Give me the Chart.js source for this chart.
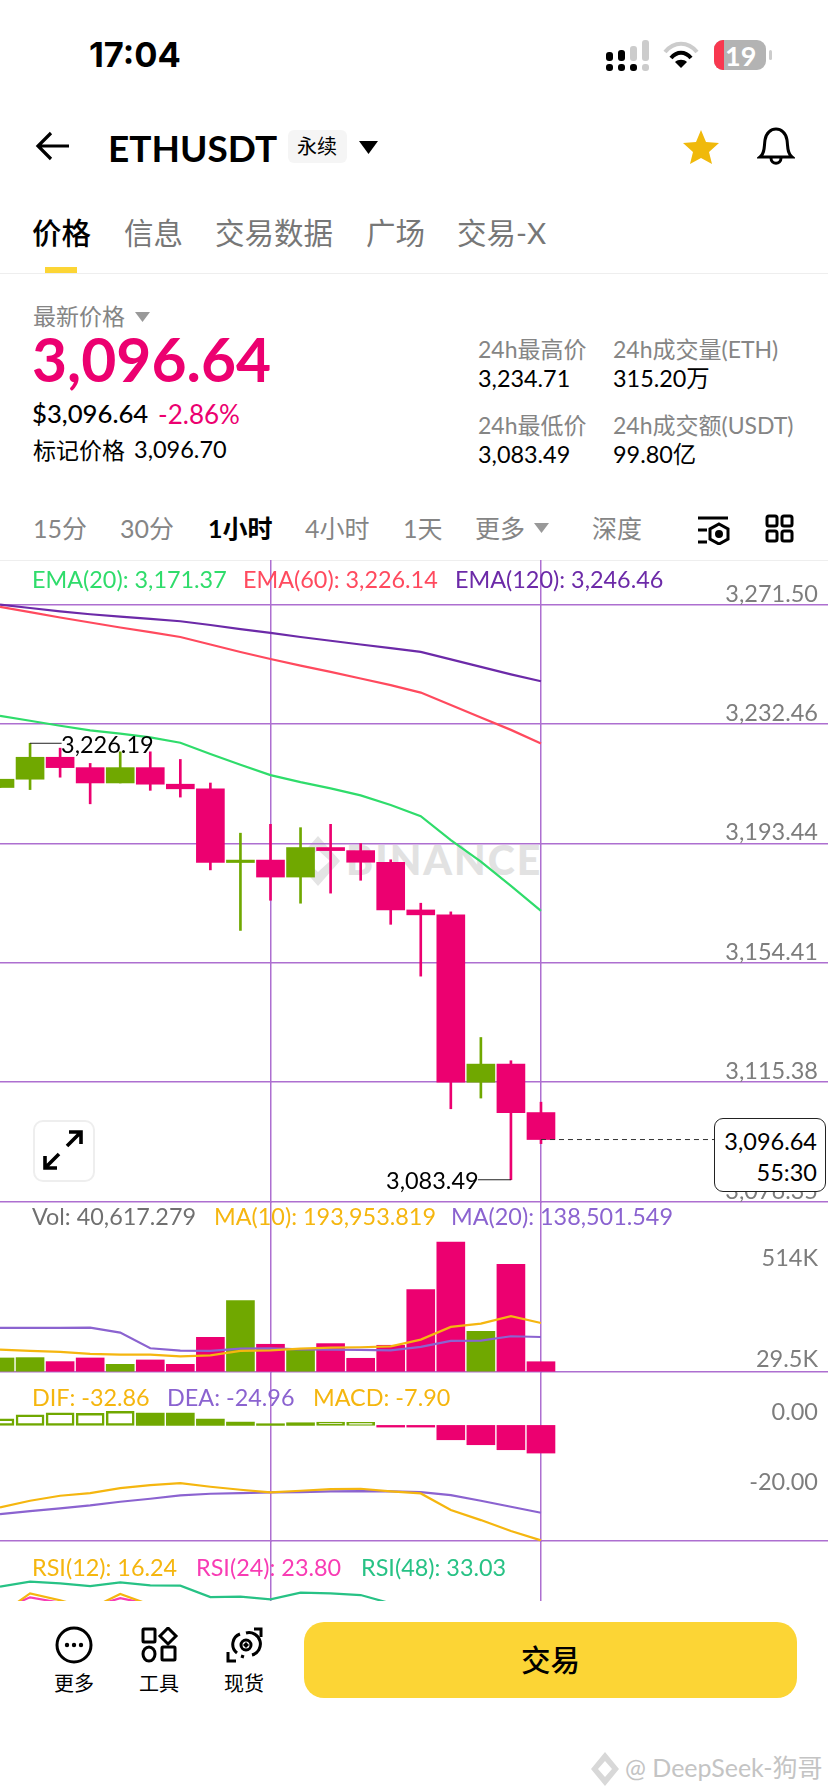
<!DOCTYPE html>
<html lang="zh">
<head>
<meta charset="utf-8">
<title>ETHUSDT</title>
<script src="https://cdn.jsdelivr.net/npm/chart.js@4"></script>
<style>
  html, body { margin: 0; padding: 0; background: #fff; }
  #app { position: relative; width: 828px; height: 1792px; overflow: hidden; background: #fff;
         font-family: Lato, "Noto Sans CJK SC", sans-serif; color: #000; }
  .t { position: absolute; white-space: nowrap; transform: translateY(-50%); line-height: 1; }
  .g { color: #858585; }
  .r { right: 10px; color: #7d7d7d; font-size: 23.5px; }
  canvas { position: absolute; left: 0; }
  svg { position: absolute; }
  #priceBox { position: absolute; left: 714px; top: 1118px; width: 110px; height: 72px; background: #fff;
              border: 1.5px solid #222; border-radius: 9px; z-index: 3; }
  #priceBox div { position: absolute; right: 8px; font-size: 23.5px; line-height: 1; }
</style>
</head>
<body>
<div id="app">
  <!-- status bar -->
  <div class="t" style="left:89px;top:55px;font-size:34.5px;font-weight:700;font-family:Inter">17:04</div>
  <svg style="left:604px;top:38px" width="70" height="34">
    <rect x="2" y="14" width="7" height="9" rx="3"/><rect x="14" y="12" width="7" height="11" rx="3"/>
    <rect x="2" y="26" width="7" height="7" rx="3"/><rect x="14" y="26" width="7" height="7" rx="3"/><rect x="26" y="26" width="7" height="7" rx="3"/>
    <rect x="26" y="8" width="7" height="15" rx="3" fill="#ccc"/><rect x="38" y="2" width="7" height="21" rx="3" fill="#ccc"/><rect x="38" y="26" width="7" height="7" rx="3" fill="#ccc"/>
  </svg>
  <svg style="left:662px;top:40px" width="38" height="30" fill="none" stroke-width="4">
    <path d="M3 12 C12 1 26 1 35 12" stroke="#ccc"/><path d="M9 18 C15 11 23 11 29 18" stroke="#000"/>
    <path d="M19 28 L13 22 C16 19 22 19 25 22 Z" fill="#000" stroke="none"/>
  </svg>
  <div style="position:absolute;left:714px;top:40px;width:52px;height:30px;border-radius:9px;background:#b3b3b3;overflow:hidden">
    <div style="position:absolute;left:0;top:0;width:10px;height:30px;background:#f8384f"></div>
    <div class="t" style="left:11px;top:15px;color:#fff;font-size:27px;font-weight:700">19</div>
  </div>
  <div style="position:absolute;left:769px;top:50px;width:3px;height:10px;background:#ccc;border-radius:2px"></div>

  <!-- title row -->
  <svg style="left:35px;top:130px" width="36" height="32" fill="none" stroke="#000" stroke-width="3.2">
    <path d="M2 16 H34 M16 3 L3 16 L16 29"/>
  </svg>
  <div class="t" style="left:108px;top:147px;font-size:37px;font-weight:700">ETHUSDT</div>
  <div style="position:absolute;left:288px;top:130px;width:59px;height:33px;background:#f5f5f5;border-radius:6px"></div>
  <div class="t" style="left:297px;top:146px;font-size:20px">永续</div>
  <svg style="left:359px;top:141px" width="20" height="13"><path d="M0 0 H19 L9.5 13 Z"/></svg>
  <svg style="left:682px;top:129px" width="38" height="36"><path d="M19 1 L24 13 L37 14 L27 23 L30 35 L19 29 L8 35 L11 23 L1 14 L14 13 Z" fill="#f0b90b"/></svg>
  <svg style="left:757px;top:127px" width="38" height="38" fill="none" stroke="#000" stroke-width="3">
    <path d="M3 30 C8 26 7 20 8 13 C9 6 14 2 19 2 C24 2 29 6 30 13 C31 20 30 26 35 30 Z"/><path d="M14 31 C14 38 24 38 24 31"/>
  </svg>

  <!-- tabs -->
  <div class="t" style="left:32px;top:233px;font-size:29.5px;font-weight:500">价格</div>
  <div class="t g" style="left:124px;top:233px;font-size:29.5px;color:#777">信息</div>
  <div class="t g" style="left:215px;top:233px;font-size:29.5px;color:#777">交易数据</div>
  <div class="t g" style="left:366px;top:233px;font-size:29.5px;color:#777">广场</div>
  <div class="t g" style="left:457px;top:233px;font-size:29.5px;color:#777">交易-X</div>
  <div style="position:absolute;left:45px;top:267px;width:32px;height:6px;background:#fcd535"></div>
  <div style="position:absolute;left:0;top:273px;width:828px;height:1px;background:#eee"></div>

  <!-- price block -->
  <div class="t g" style="left:33px;top:316px;font-size:23px">最新价格</div>
  <svg style="left:135px;top:312px" width="16" height="10"><path d="M0 0 H15 L7.5 10 Z" fill="#999"/></svg>
  <div class="t" style="left:32px;top:359px;font-size:60.5px;font-weight:700;color:#ec0070">3,096.64</div>
  <div class="t" style="left:32px;top:414px;font-size:25.7px;font-weight:500">$3,096.64</div>
  <div class="t" style="left:158px;top:414px;font-size:26px;color:#ec0070">-2.86%</div>
  <div class="t" style="left:33px;top:450px;font-size:23px">标记价格</div>
  <div class="t" style="left:134px;top:450px;font-size:23.5px">3,096.70</div>

  <div class="t g" style="left:478px;top:349px;font-size:23px">24h最高价</div>
  <div class="t" style="left:478px;top:379px;font-size:23.4px">3,234.71</div>
  <div class="t g" style="left:613px;top:349px;font-size:23px">24h成交量(ETH)</div>
  <div class="t" style="left:613px;top:379px;font-size:23.4px">315.20万</div>
  <div class="t g" style="left:478px;top:425px;font-size:23px">24h最低价</div>
  <div class="t" style="left:478px;top:455px;font-size:23.4px">3,083.49</div>
  <div class="t g" style="left:613px;top:425px;font-size:23px">24h成交额(USDT)</div>
  <div class="t" style="left:613px;top:455px;font-size:23.4px">99.80亿</div>

  <!-- interval row -->
  <div class="t g" style="left:33px;top:528px;font-size:25px">15分</div>
  <div class="t g" style="left:120px;top:528px;font-size:25px">30分</div>
  <div class="t" style="left:208px;top:528px;font-size:25px;font-weight:700">1小时</div>
  <div class="t g" style="left:305px;top:528px;font-size:25px">4小时</div>
  <div class="t g" style="left:403px;top:528px;font-size:25px">1天</div>
  <div class="t g" style="left:475px;top:528px;font-size:25px">更多</div>
  <svg style="left:534px;top:523px" width="16" height="10"><path d="M0 0 H15 L7.5 10 Z" fill="#999"/></svg>
  <div class="t g" style="left:592px;top:528px;font-size:25px">深度</div>
  <svg style="left:697px;top:515px" width="33" height="30" fill="none" stroke="#000" stroke-width="3">
    <path d="M1 3 H31 M1 15 H10 M1 27 H10"/><path d="M22 9 L31 14 V24 L22 29 L13 24 V14 Z"/><circle cx="22" cy="19" r="2.5" fill="#000"/>
  </svg>
  <svg style="left:765px;top:514px" width="29" height="29" fill="none" stroke="#000" stroke-width="3">
    <rect x="2" y="2" width="10" height="10" rx="2"/><rect x="17" y="2" width="10" height="10" rx="2"/>
    <rect x="2" y="17" width="10" height="10" rx="2"/><rect x="17" y="17" width="10" height="10" rx="2"/>
  </svg>
  <div style="position:absolute;left:0;top:560px;width:828px;height:1px;background:#eee"></div>

  <!-- watermark behind the candles -->
  <svg style="left:296px;top:836px" width="44" height="50"><path d="M22 0 L44 25 L22 50 L0 25 Z M22 14 L10 25 L22 36 L34 25 Z" fill="#e4e4e4" fill-rule="evenodd"/></svg>
  <div class="t" style="left:346px;top:859px;font-size:41px;font-weight:900;color:#e2e2e2;letter-spacing:2px">BINANCE</div>

  <canvas id="priceChart" width="828" height="643" style="top:560px"></canvas>
  <canvas id="volChart" width="828" height="171" style="top:1202px"></canvas>
  <canvas id="macdChart" width="828" height="170" style="top:1372px"></canvas>
  <canvas id="rsiChart" width="828" height="60" style="top:1541px"></canvas>

  <!-- pane legends -->
  <div class="t" style="left:32px;top:580px;font-size:23.4px;color:#2fdc6b">EMA(20): 3,171.37</div>
  <div class="t" style="left:243px;top:580px;font-size:23.4px;color:#ff4a5e">EMA(60): 3,226.14</div>
  <div class="t" style="left:455px;top:580px;font-size:23.4px;color:#6c2aa8">EMA(120): 3,246.46</div>
  <div class="t" style="left:32px;top:1217px;font-size:23.4px;color:#707070">Vol: 40,617.279</div>
  <div class="t" style="left:214px;top:1217px;font-size:23.4px;color:#f5b60f">MA(10): 193,953.819</div>
  <div class="t" style="left:451px;top:1217px;font-size:23.4px;color:#8b63d0">MA(20): 138,501.549</div>
  <div class="t" style="left:32px;top:1398px;font-size:23.4px;color:#f5b60f">DIF: -32.86</div>
  <div class="t" style="left:167px;top:1398px;font-size:23.4px;color:#8b63d0">DEA: -24.96</div>
  <div class="t" style="left:313px;top:1398px;font-size:23.4px;color:#f5b60f">MACD: -7.90</div>
  <div class="t" style="left:32px;top:1568px;font-size:23.4px;color:#f5b60f">RSI(12): 16.24</div>
  <div class="t" style="left:196px;top:1568px;font-size:23.4px;color:#f83cb4">RSI(24): 23.80</div>
  <div class="t" style="left:361px;top:1568px;font-size:23.4px;color:#27c285">RSI(48): 33.03</div>

  <!-- high / low markers -->
  <div class="t" style="left:61px;top:745px;font-size:23.5px">3,226.19</div>
  <div class="t" style="left:386px;top:1181px;font-size:23.5px">3,083.49</div>

  <!-- expand button -->
  <div style="position:absolute;left:33px;top:1120px;width:58px;height:58px;border:2px solid #eee;border-radius:10px;background:#fff"></div>
  <svg style="left:41px;top:1128px" width="44" height="44" fill="none" stroke="#000" stroke-width="3.6">
    <path d="M26 18 L39 5 M28 4 H40 V16 M18 26 L5 39 M4 28 V40 H16"/>
  </svg>

  <!-- last price box -->
  <div id="priceBox"><div style="top:11px">3,096.64</div><div style="top:42px">55:30</div></div>

  <!-- bottom bar -->
  <svg style="left:55px;top:1626px" width="38" height="38" fill="none" stroke="#000" stroke-width="3">
    <circle cx="19" cy="19" r="17"/><circle cx="12" cy="19" r="2.2" fill="#000" stroke="none"/><circle cx="19" cy="19" r="2.2" fill="#000" stroke="none"/><circle cx="26" cy="19" r="2.2" fill="#000" stroke="none"/>
  </svg>
  <svg style="left:141px;top:1627px" width="38" height="36" fill="none" stroke="#000" stroke-width="3">
    <rect x="2" y="2" width="12" height="13" rx="1"/><path d="M27 1 L35 9 L27 17 L19 9 Z"/><ellipse cx="8" cy="27" rx="6" ry="7"/><rect x="21" y="20" width="13" height="13" rx="1"/>
  </svg>
  <svg style="left:226px;top:1627px" width="38" height="36" fill="none" stroke="#000" stroke-width="3">
    <path d="M11 26 A11 11 0 0 1 14 7 M20 6 A11 11 0 0 1 26 28 M18 30 L15 29"/><circle cx="20" cy="18" r="5"/><path d="M20 15 L23 18 L20 21 L17 18 Z" fill="#000" stroke="none"/><path d="M28 2 H35 V10 M2 25 V34 H10"/>
  </svg>
  <div class="t" style="left:54px;top:1683px;font-size:20px">更多</div>
  <div class="t" style="left:139px;top:1683px;font-size:20px">工具</div>
  <div class="t" style="left:224px;top:1683px;font-size:20px">现货</div>
  <div style="position:absolute;left:304px;top:1622px;width:493px;height:76px;background:#fcd535;border-radius:20px"></div>
  <div class="t" style="left:521px;top:1660px;font-size:29.5px;font-weight:500">交易</div>

  <!-- site watermark -->
  <svg style="left:591px;top:1752px" width="28" height="34"><path d="M14 0 L28 17 L14 34 L0 17 Z M14 9 L7 17 L14 25 L21 17 Z" fill="#d8d8d8" fill-rule="evenodd"/></svg>
  <div class="t" style="left:625px;top:1767px;font-size:25px;color:#c4c4c4">@ DeepSeek-狗哥</div>
</div>

<script>
const candleIndex = [0, 1, 2, 3, 4, 5, 6, 7, 8, 9, 10, 11, 12, 13, 14, 15, 16, 17, 18];

const opens  = [3211.73, 3214.44, 3221.62, 3218.23, 3213.22, 3218.23, 3212.81, 3211.30, 3187.20, 3188.00, 3182.45, 3192.10, 3191.10, 3187.30, 3171.70, 3170.10, 3115.36, 3121.30, 3105.46];
const closes = [3214.44, 3221.62, 3218.23, 3213.22, 3218.23, 3212.81, 3211.30, 3187.20, 3188.00, 3182.45, 3192.10, 3191.10, 3187.30, 3171.70, 3170.10, 3115.36, 3121.30, 3105.46, 3096.64];
const highs  = [3214.44, 3226.19, 3224.60, 3219.60, 3223.40, 3223.40, 3220.90, 3213.20, 3196.80, 3199.70, 3198.60, 3199.70, 3193.40, 3188.10, 3173.90, 3171.07, 3130.00, 3122.40, 3108.85];
const lows   = [3211.73, 3211.05, 3215.10, 3206.40, 3213.22, 3210.80, 3208.60, 3184.80, 3165.00, 3174.86, 3173.90, 3177.20, 3181.40, 3167.00, 3150.06, 3106.70, 3110.20, 3083.49, 3095.30];

const ema20  = [3235.18, 3233.55, 3231.92, 3230.43, 3229.35, 3228.13, 3226.37, 3222.71, 3219.18, 3215.79, 3213.49, 3211.46, 3209.15, 3206.03, 3202.37, 3194.51, 3187.47, 3179.60, 3171.37];
const ema60  = [3270.82, 3269.06, 3267.30, 3265.67, 3264.05, 3262.55, 3260.93, 3258.49, 3256.05, 3253.74, 3251.58, 3249.54, 3247.37, 3245.21, 3242.77, 3238.70, 3234.63, 3230.57, 3226.14];
const ema120 = [3271.50, 3270.42, 3269.33, 3268.38, 3267.57, 3266.89, 3266.08, 3264.86, 3263.50, 3262.28, 3260.93, 3259.71, 3258.49, 3257.27, 3256.05, 3253.61, 3251.17, 3248.73, 3246.46];

const volumes = [55500, 56800, 41000, 55500, 30400, 47600, 30400, 137400, 282800, 109700, 92500, 112300, 54200, 105700, 326400, 514000, 161200, 425500, 40617];
const volMa10 = [88500, 83200, 79300, 71400, 68700, 68700, 62100, 66100, 83200, 85900, 92500, 96500, 97800, 101700, 128200, 178400, 191600, 220700, 193954];
const volMa20 = [174400, 174400, 174400, 175700, 155900, 93800, 84600, 83200, 92500, 93800, 89800, 88500, 87200, 85900, 99100, 122900, 124200, 141400, 138502];

const macdHist = [1.90, 3.05, 3.62, 3.43, 4.00, 3.52, 3.52, 1.81, 0.95, 0.48, 0.76, 0.95, 0.86, -0.48, -0.48, -4.10, -5.52, -6.95, -7.90];
const macdHollow = [true, true, true, true, true, false, false, false, false, false, false, true, true, false, false, false, false, false, false];
const dif = [-23.43, -21.52, -20.10, -19.33, -17.90, -17.05, -16.48, -17.52, -18.38, -19.14, -18.67, -18.19, -18.10, -18.86, -19.43, -24.19, -27.05, -30.19, -32.86];
const dea = [-25.33, -24.48, -23.71, -22.86, -21.81, -20.95, -20.00, -19.52, -19.33, -19.14, -19.05, -18.86, -18.76, -18.86, -19.05, -19.90, -21.52, -23.24, -24.96];

const rsi12 = [43, 50.11, 47.8, 45, 49.9, 46.3, 44, 33, 34, 33, 38, 37, 36, 31, 29, 18, 21, 17, 16.24];
const rsi24 = [44.5, 48.8, 47, 45.5, 48.5, 46.5, 45.2, 38, 38.5, 38, 41, 40, 39, 36, 34, 26, 27.5, 24.5, 23.8];
const rsi48 = [52.33, 54, 53.44, 52.56, 53.78, 52.78, 52.67, 48.89, 49, 48.11, 50.33, 50.11, 49.56, 46.78, 44, 40, 38, 35, 33.03];

const priceTicks = [3271.50, 3232.46, 3193.44, 3154.41, 3115.38, 3076.35];
const priceTickLabels = ['3,271.50', '3,232.46', '3,193.44', '3,154.41', '3,115.38', '3,076.35'];
const macdTicks = [0, -20];
const macdTickLabels = ['0.00', '-20.00'];

const PINK = '#ec0070';
const GREEN = '#70a800';
const GRID = '#ad6fd0';
const app = document.getElementById('app');

const points = (values) => values.map((y, i) => ({ x: candleIndex[i], y }));

const lineSet = (values, color, width) => ({
    type: 'line',
    data: points(values),
    borderColor: color,
    borderWidth: width || 2.2,
    pointRadius: 0,
    tension: 0,
    order: 1
});

// shared setup for every pane: full-bleed plot, grid lines only, text lives in the page
function makePane(id, datasets, yMin, yMax, gridValues) {
    return new Chart(document.getElementById(id), {
        type: 'bar',
        data: { datasets },
        options: {
            responsive: false,
            animation: false,
            events: [],
            layout: { padding: 0 },
            plugins: { legend: { display: false }, tooltip: { enabled: false } },
            scales: {
                x: {
                    type: 'linear', min: 0, max: 27.55, offset: false,
                    grid: { color: GRID, lineWidth: 1.5, drawTicks: false, offset: false },
                    border: { display: false },
                    ticks: { display: false },
                    afterBuildTicks: (scale) => { scale.ticks = [{ value: 9 }, { value: 18 }]; }
                },
                y: {
                    min: yMin, max: yMax,
                    grid: { color: GRID, lineWidth: 1.5, drawTicks: false },
                    border: { display: false },
                    ticks: { display: false },
                    afterBuildTicks: (scale) => { scale.ticks = gridValues.map(value => ({ value })); }
                }
            }
        }
    });
}

// axis label placed from the chart's own y scale
function axisLabel(chart, value, text, dy) {
    const el = document.createElement('div');
    el.className = 't r';
    el.textContent = text;
    el.style.top = (chart.canvas.offsetTop + chart.scales.y.getPixelForValue(value) + dy) + 'px';
    app.appendChild(el);
}

const candleColors = opens.map((o, i) => closes[i] >= o ? GREEN : PINK);

const priceChart = makePane('priceChart', [
    lineSet(ema20, '#2fdc6b'),
    lineSet(ema60, '#ff4a5e'),
    lineSet(ema120, '#6c2aa8'),
    { type: 'line', data: [{ x: 1, y: highs[1] }, { x: 2.05, y: highs[1] }], borderColor: '#222', borderWidth: 1, pointRadius: 0, order: 1 },
    { type: 'line', data: [{ x: 15.9, y: lows[17] }, { x: 17, y: lows[17] }], borderColor: '#222', borderWidth: 1, pointRadius: 0, order: 1 },
    { type: 'line', data: [{ x: 18, y: closes[18] }, { x: 23.8, y: closes[18] }], borderColor: '#333', borderWidth: 1, borderDash: [5, 4], pointRadius: 0, order: 1 },
    { data: candleIndex.map((x, i) => ({ x, y: [lows[i], highs[i]] })), backgroundColor: candleColors, barThickness: 2, grouped: false, order: 3 },
    { data: candleIndex.map((x, i) => ({ x, y: [opens[i], closes[i]] })), backgroundColor: candleColors, barThickness: 28, grouped: false, order: 2 }
], 3075.89, 3286.11, priceTicks);

const volChart = makePane('volChart', [
    lineSet(volMa10, '#f5b60f'),
    lineSet(volMa20, '#8b63d0'),
    { data: points(volumes), backgroundColor: candleColors, barThickness: 28, grouped: false, order: 2 }
], -4000, 672600, [0]);

const macdChart = makePane('macdChart', [
    lineSet(dif, '#f5b60f'),
    lineSet(dea, '#8b63d0'),
    {
        data: points(macdHist),
        backgroundColor: macdHist.map((v, i) => macdHollow[i] ? '#fff' : (v >= 0 ? GREEN : PINK)),
        borderColor: macdHist.map(v => v >= 0 ? GREEN : PINK),
        borderWidth: macdHollow.map(h => h ? 2.5 : 0),
        borderSkipped: false,
        barThickness: 28, grouped: false, order: 2
    }
], -33.31, 15.26, [-33]);

const rsiChart = makePane('rsiChart', [
    lineSet(rsi12, '#f5b60f'),
    lineSet(rsi24, '#f83cb4'),
    lineSet(rsi48, '#27c285')
], 47.57, 67.57, []);

priceTicks.forEach((v, i) => axisLabel(priceChart, v, priceTickLabels[i], -11));
axisLabel(volChart, 514000, '514K', 16);
axisLabel(volChart, 29500, '29.5K', -6);
macdTicks.forEach((v, i) => axisLabel(macdChart, v, macdTickLabels[i], -13));
</script>
</body>
</html>
